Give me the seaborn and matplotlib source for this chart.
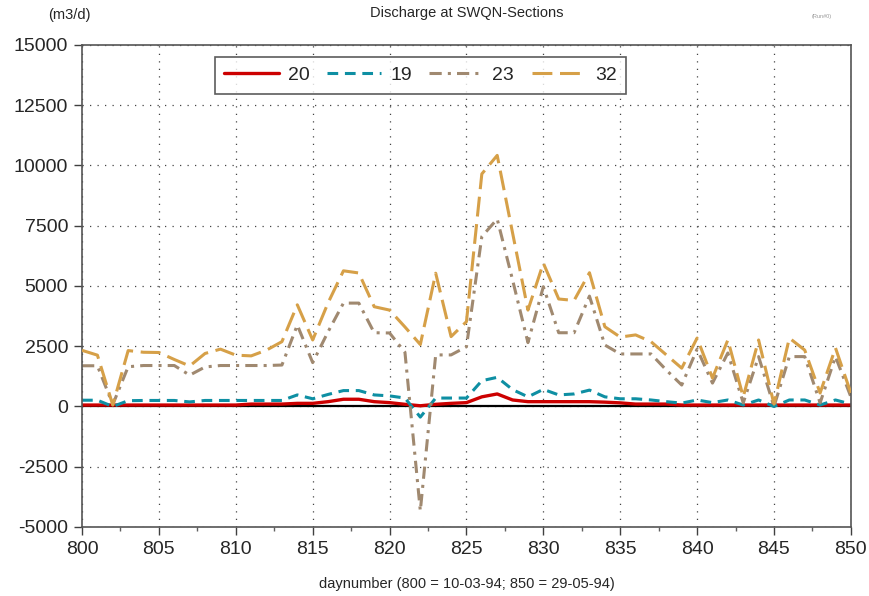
import numpy as np
import pandas as pd
import seaborn as sns
import matplotlib.pyplot as plt
from matplotlib.ticker import MultipleLocator

# day numbers and discharge (m3/d) per SWQN section
days = list(range(800, 851))
q20 = [60, 60, 60, 60, 60, 60, 60, 60, 60, 60,
       60, 100, 100, 100, 130, 130, 200, 300, 300, 200,
       160, 90, 30, 90, 130, 160, 400, 520, 270, 200,
       200, 200, 200, 200, 180, 150, 100, 100, 100, 60,
       60, 60, 60, 60, 60, 60, 60, 60, 60, 60, 60]
q19 = [260, 260, 0, 240, 250, 250, 250, 190, 250, 250,
       250, 250, 250, 250, 480, 320, 500, 660, 660, 480,
       440, 350, -440, 350, 350, 350, 1070, 1210, 700, 400,
       710, 480, 520, 680, 400, 320, 320, 270, 200, 140,
       270, 160, 270, 60, 270, 0, 270, 270, 60, 270, 100]
q23 = [1690, 1690, 80, 1650, 1700, 1700, 1700, 1300, 1640, 1700,
       1700, 1700, 1700, 1720, 3380, 1820, 3100, 4290, 4290, 3060,
       3050, 2250, -4330, 2140, 2140, 2480, 7050, 7780, 5250, 2650,
       4970, 3060, 3060, 4580, 2550, 2180, 2180, 2180, 1510, 890,
       2380, 970, 2220, 150, 2070, 0, 2070, 2070, 150, 2070, 400]
q32 = [2330, 2130, 60, 2320, 2250, 2240, 1950, 1680, 2200, 2380,
       2130, 2100, 2340, 2690, 4220, 2760, 4300, 5630, 5540, 4140,
       4000, 3300, 2570, 5530, 2900, 3520, 9650, 10420, 7200, 4000,
       5950, 4460, 4400, 5550, 3310, 2880, 2970, 2690, 2140, 1590,
       2840, 1180, 2760, 400, 2760, 100, 2840, 2340, 560, 2430, 560]

sections = ['20', '19', '23', '32']
colors = ['#cc0000', '#0e8fa3', '#a08970', '#d6a048']
dashes = [(None, None), (3.5, 2.2), (4, 2, 1, 2), (6.5, 2.5)]

df = pd.DataFrame({'day': days, '20': q20, '19': q19, '23': q23, '32': q32})
long = df.melt(id_vars='day', var_name='section', value_name='discharge')

sns.set_style('white')
plt.rcParams['font.family'] = ['Liberation Sans', 'DejaVu Sans']
plt.rcParams['axes.unicode_minus'] = False

fig = plt.figure(figsize=(8.7, 5.96), dpi=100)
ax = fig.add_axes([0.0943, 0.1158, 0.8837, 0.8087])

ax.axhline(0, color='black', lw=1.6, zorder=1)

for name, col, dsh in zip(sections, colors, dashes):
    sub = long[long['section'] == name]
    sns.lineplot(data=sub, x='day', y='discharge', ax=ax, color=col,
                 lw=2.4 if name == '20' else 2.2, label=name,
                 zorder=3 if name == '32' else 2)
    if dsh[0] is not None:
        ax.lines[-1].set_dashes(dsh)

ax.set_xlim(800, 850)
ax.set_ylim(-5000, 15000)
ax.xaxis.set_major_locator(MultipleLocator(5))
ax.xaxis.set_minor_locator(MultipleLocator(2.5))
ax.yaxis.set_major_locator(MultipleLocator(2500))
ax.tick_params(axis='both', which='major', direction='out', length=6,
               width=1, color='#404040', labelsize=14, pad=4)
ax.tick_params(axis='x', which='minor', direction='out', length=3,
               width=1, color='#606060')
ax.tick_params(axis='x', bottom=True, which='both')
ax.tick_params(axis='y', left=True, which='major')
ax.grid(True, which='major', linestyle=(0, (1, 5)), color='#444444', lw=0.9)

for side in ['left', 'bottom', 'top', 'right']:
    ax.spines[side].set_visible(True)
    ax.spines[side].set_color('#555555')
    ax.spines[side].set_linewidth(1.2)

ax.set_xlabel('daynumber (800 = 10-03-94; 850 = 29-05-94)', fontsize=10.5, labelpad=14)
ax.set_ylabel('')

leg = ax.legend(loc='upper left', bbox_to_anchor=(0.16, 0.996), ncol=4,
                fontsize=14, frameon=True, fancybox=False, handlelength=2.8,
                columnspacing=0.9, handletextpad=0.45, borderpad=0.5)
leg.get_frame().set_edgecolor('#333333')
leg.get_frame().set_linewidth(1.2)

fig.text(0.537, 0.978, 'Discharge at SWQN-Sections', ha='center', va='center', fontsize=10.5)
fig.text(0.08, 0.975, '(m3/d)', ha='center', va='center', fontsize=10.5)
fig.text(0.945, 0.972, '(Run#0)', ha='center', va='center', fontsize=4, color='#999999')

fig.savefig('out.png', dpi=100)
